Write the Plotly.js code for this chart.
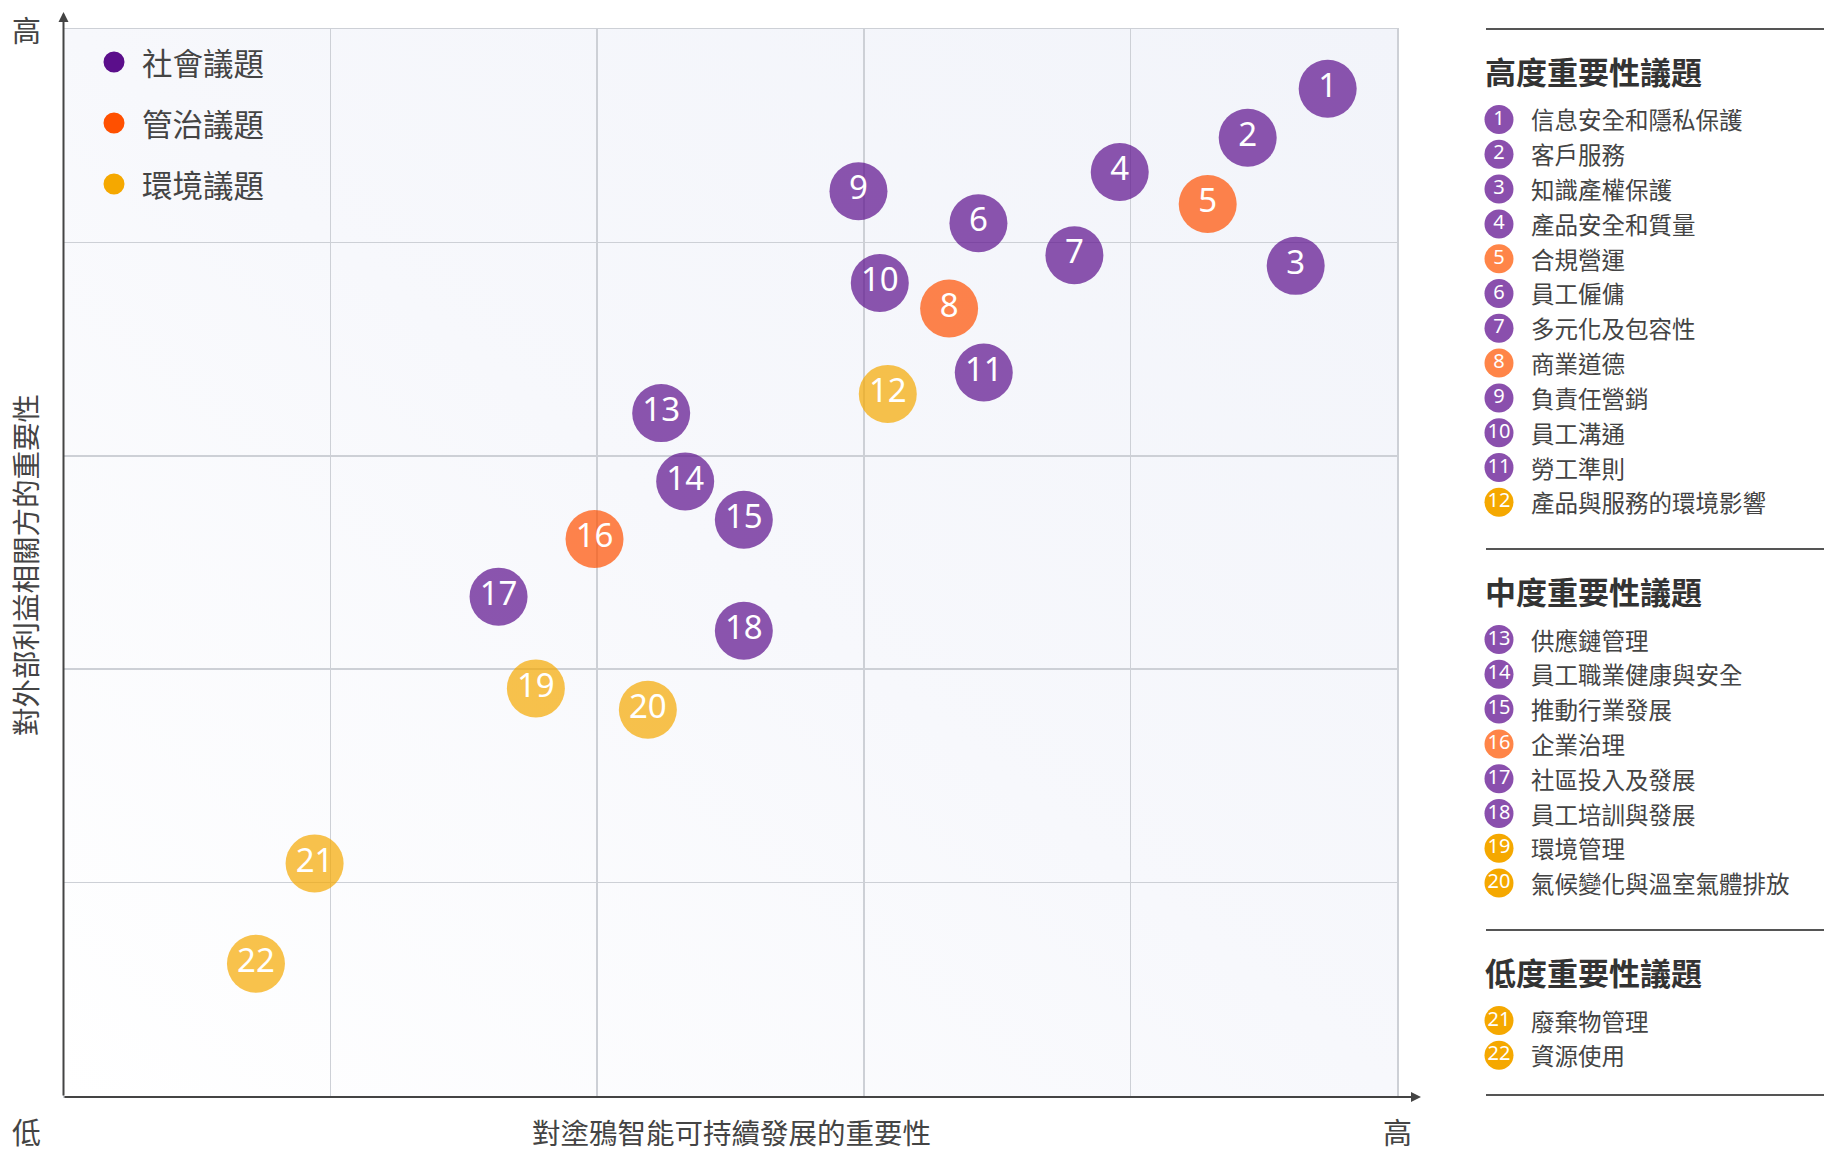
<!DOCTYPE html>
<html>
<head>
<meta charset="utf-8">
<script src="https://cdn.plot.ly/plotly-3.0.1.min.js"></script>
<style>html,body{margin:0;padding:0;background:#fff;}#chart{width:1827px;height:1151px;}</style>
</head>
<body>
<div id="chart"></div>
<script>
// ---------- DATA ----------
const issueNo = ['1','2','3','4','5','6','7','8','9','10','11','12','13','14','15','16','17','18','19','20','21','22'];
const issueNames = ['信息安全和隱私保護','客戶服務','知識產權保護','產品安全和質量','合規營運','員工僱傭','多元化及包容性','商業道德','負責任營銷','員工溝通','勞工準則','產品與服務的環境影響','供應鏈管理','員工職業健康與安全','推動行業發展','企業治理','社區投入及發展','員工培訓與發展','環境管理','氣候變化與溫室氣體排放','廢棄物管理','資源使用'];
// importance to Tuya sustainable development (x) and to stakeholders (y), grid units 0–5
const importanceTuya = [4.74,4.44,4.62,3.96,4.29,3.43,3.79,3.32,2.98,3.06,3.45,3.09,2.24,2.33,2.55,1.99,1.63,2.55,1.77,2.19,0.94,0.72];
const importanceStakeholders = [4.72,4.49,3.89,4.33,4.18,4.09,3.94,3.69,4.24,3.81,3.39,3.29,3.20,2.88,2.70,2.61,2.34,2.18,1.91,1.81,1.09,0.62];
// category: 0 社會, 1 管治, 2 環境
const issueCategory = [0,0,0,0,1,0,0,1,0,0,0,2,0,0,0,1,0,0,2,2,2,2];
// tier: 0 高度, 1 中度, 2 低度
const issueTier = [0,0,0,0,0,0,0,0,0,0,0,0,1,1,1,1,1,1,1,1,2,2];
const categoryNames = ['社會議題','管治議題','環境議題'];
const tierTitles = ['高度重要性議題','中度重要性議題','低度重要性議題'];
const xAxisTitle = '對塗鴉智能可持續發展的重要性';
const yAxisTitle = '對外部利益相關方的重要性';
const lowLabel = '低';
const highLabel = '高';

// ---------- STYLE ----------
const baseColors = ['#5B0E8B','#FF5000','#F5A800'];
const listColors = ['#8A4FAD','#FF8548','#F5A800'];
const cjk = '"Noto Sans CJK TC", "Noto Sans", sans-serif';
const W = 1827, H = 1151;
const M = {l:64, r:0, t:29, b:55};
const PW = W - M.l - M.r, PH = H - M.t - M.b;
const px = v => (v - M.l) / PW;        // pixel x -> paper
const py = v => (H - M.b - v) / PH;    // pixel y -> paper
const mainRight = 1397;

// right list layout
const sectionLines = [29, 549, 930, 1095];
const listLeft = 1486, listRight = 1824;
const circleX = 1499, nameX = 1529;
const rowStep = 34.8;

const listY = [];
const tierCount = [0,0,0];
issueNo.forEach((n,i)=>{
  const t = issueTier[i];
  listY.push(sectionLines[t] + 90.5 + tierCount[t]*rowStep);
  tierCount[t]++;
});

const traces = [
  {
    type:'scatter', mode:'markers+text',
    x: importanceTuya, y: importanceStakeholders, text: issueNo,
    textposition:'middle center',
    textfont:{family:'"Noto Sans", sans-serif', size:33, color:'#ffffff'},
    marker:{size:58, color: issueCategory.map(c=>baseColors[c]), opacity:0.7, line:{width:0}},
    hoverinfo:'skip', showlegend:false, cliponaxis:false
  },
  {
    type:'scatter', mode:'markers+text', xaxis:'x2', yaxis:'y2',
    x: issueNo.map(()=>circleX), y: listY, text: issueNo,
    textposition:'middle center',
    textfont:{family:'"Noto Sans", sans-serif', size:20, color:'#ffffff'},
    marker:{size:29, color: issueCategory.map(c=>listColors[c]), line:{width:0}},
    hoverinfo:'skip', showlegend:false, cliponaxis:false
  }
];

const annotations = [];
const shapes = [];

// list names
issueNames.forEach((name,i)=>{
  annotations.push({xref:'paper', yref:'paper', x:px(nameX), y:py(listY[i]), text:name, showarrow:false,
    xanchor:'left', yanchor:'middle', font:{family:cjk, size:23.5, color:'#444'}});
});
// tier headings and lines
tierTitles.forEach((t,k)=>{
  annotations.push({xref:'paper', yref:'paper', x:px(listLeft-3), y:py(sectionLines[k]+41), text:'<b>'+t+'</b>', showarrow:false,
    xanchor:'left', yanchor:'middle', font:{family:cjk, size:31, color:'#333'}});
});
sectionLines.forEach(l=>{
  shapes.push({type:'line', xref:'paper', yref:'paper', x0:px(listLeft), x1:px(listRight), y0:py(l), y1:py(l),
    line:{color:'#555', width:2}});
});

// category legend inside the plot
const legendY = [62, 123, 184];
categoryNames.forEach((c,k)=>{
  shapes.push({type:'circle', xref:'paper', yref:'paper', xsizemode:'pixel', ysizemode:'pixel',
    xanchor:px(114), yanchor:py(legendY[k]), x0:-10.5, x1:10.5, y0:-10.5, y1:10.5,
    fillcolor:baseColors[k], line:{width:0}});
  annotations.push({xref:'paper', yref:'paper', x:px(140), y:py(legendY[k]), text:c, showarrow:false,
    xanchor:'left', yanchor:'middle', font:{family:cjk, size:30.5, color:'#444'}});
});

// axis arrows
annotations.push({xref:'paper', yref:'paper', x:px(1421), y:py(1097), ax:-(1421-63), ay:0, text:'', showarrow:true,
  arrowhead:2, arrowsize:1, arrowwidth:2, arrowcolor:'#444', standoff:0, startstandoff:0});
annotations.push({xref:'paper', yref:'paper', x:px(63.5), y:py(12), ax:0, ay:(1097-12), text:'', showarrow:true,
  arrowhead:2, arrowsize:1, arrowwidth:2, arrowcolor:'#444', standoff:0, startstandoff:0});

// axis end labels and titles
annotations.push({xref:'paper', yref:'paper', x:px(26), y:py(29), text:highLabel, showarrow:false,
  xanchor:'center', yanchor:'middle', font:{family:cjk, size:29, color:'#444'}});
annotations.push({xref:'paper', yref:'paper', x:px(26), y:py(H), text:lowLabel, showarrow:false,
  xanchor:'center', yanchor:'bottom', height:36, font:{family:cjk, size:29, color:'#444'}});
annotations.push({xref:'paper', yref:'paper', x:px(1397), y:py(H), text:highLabel, showarrow:false,
  xanchor:'center', yanchor:'bottom', height:36, font:{family:cjk, size:29, color:'#444'}});
annotations.push({xref:'paper', yref:'paper', x:px(731), y:py(H), text:xAxisTitle, showarrow:false,
  xanchor:'center', yanchor:'bottom', height:36, font:{family:cjk, size:28.5, color:'#444'}});
annotations.push({xref:'paper', yref:'paper', x:px(24), y:py(565), text:yAxisTitle, showarrow:false, textangle:-90,
  xanchor:'center', yanchor:'middle', font:{family:cjk, size:28.5, color:'#444'}});

// plot background gradient
const svg = "<svg xmlns='http://www.w3.org/2000/svg' width='200' height='200' preserveAspectRatio='none'>"+
  "<defs><linearGradient id='g' x1='0' y1='1' x2='1' y2='0'>"+
  "<stop offset='0' stop-color='#ffffff'/><stop offset='0.5' stop-color='#F7F8FC'/><stop offset='1' stop-color='#F2F4FA'/></linearGradient></defs>"+
  "<rect width='200' height='200' fill='url(#g)'/></svg>";
const bgImage = {source:'data:image/svg+xml;charset=utf-8,'+encodeURIComponent(svg),
  xref:'x', yref:'y', x:0, y:5, sizex:5, sizey:5, sizing:'stretch', xanchor:'left', yanchor:'top', layer:'below'};

const gridColor = '#CDD0D6';
const layout = {
  width:W, height:H,
  margin:{l:M.l, r:M.r, t:M.t, b:M.b, pad:0},
  paper_bgcolor:'#ffffff', plot_bgcolor:'rgba(0,0,0,0)',
  showlegend:false,
  xaxis:{domain:[0, (mainRight-M.l)/PW], range:[0,5], tick0:0, dtick:1, showgrid:true, gridcolor:gridColor, gridwidth:1.5,
    showticklabels:false, ticks:'', zeroline:false, showline:true, mirror:true, linecolor:gridColor, linewidth:1.5, fixedrange:true},
  yaxis:{domain:[0,1], range:[0,5], tick0:0, dtick:1, showgrid:true, gridcolor:gridColor, gridwidth:1.5,
    showticklabels:false, ticks:'', zeroline:false, showline:true, mirror:true, linecolor:gridColor, linewidth:1.5, fixedrange:true},
  xaxis2:{domain:[px(listLeft), 1], range:[listLeft, W], visible:false, anchor:'y2', fixedrange:true},
  yaxis2:{domain:[0,1], range:[H-M.b, M.t], visible:false, anchor:'x2', fixedrange:true},
  images:[bgImage],
  shapes: shapes,
  annotations: annotations
};

Plotly.newPlot('chart', traces, layout, {displayModeBar:false, staticPlot:true});
</script>
</body>
</html>
